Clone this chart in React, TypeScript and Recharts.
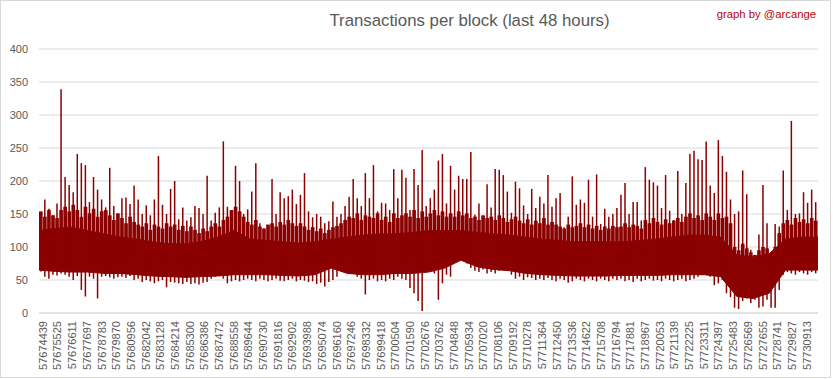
import React from 'react';
import { ComposedChart, Area, Bar, XAxis, YAxis, CartesianGrid } from 'recharts';

// first block of the 48h window, and how many blocks one sampled column covers
const START_BLOCK = 57674439;
const WINDOW_BLOCKS = 57600;
const COL_BLOCKS = 300;
const BODY_BLOCKS = 1200;
const CORE_BASE = 80;

// per-column maximum of transactions per block
const colHigh = [
  152, 172, 158, 148, 166, 339, 206, 194, 183, 241, 227, 224, 168, 206, 187, 172, 160, 220, 162, 150,
  174, 175, 165, 193, 172, 150, 163, 148, 172, 238, 164, 150, 188, 200, 142, 160, 140, 145, 162, 159,
  150, 208, 140, 152, 160, 260, 161, 152, 223, 200, 150, 157, 184, 227, 136, 128, 131, 203, 150, 183,
  174, 177, 187, 165, 179, 212, 154, 145, 150, 146, 136, 139, 169, 146, 150, 162, 176, 203, 174, 162,
  212, 174, 224, 154, 167, 166, 156, 218, 174, 217, 205, 156, 218, 194, 247, 162, 174, 187, 231, 241,
  166, 223, 187, 208, 203, 203, 244, 149, 166, 144, 195, 160, 218, 217, 209, 184, 152, 199, 189, 163,
  150, 188, 159, 176, 166, 209, 161, 174, 182, 130, 146, 207, 164, 172, 167, 202, 146, 210, 135, 158,
  146, 150, 159, 179, 197, 150, 168, 168, 140, 221, 202, 198, 193, 159, 209, 155, 141, 215, 150, 197,
  241, 246, 233, 232, 260, 193, 182, 262, 238, 214, 172, 150, 154, 216, 180, 96, 81, 119, 194, 136,
  91, 135, 131, 216, 156, 291, 150, 151, 183, 167, 187, 168,
];

// typical upper edge of the dense mass in each column
const colCore = [
  154, 146, 156, 148, 144, 156, 161, 154, 164, 156, 146, 161, 151, 158, 146, 154, 156, 148, 141, 151,
  144, 136, 146, 138, 134, 131, 136, 126, 134, 131, 128, 136, 131, 134, 126, 132, 124, 131, 126, 121,
  128, 124, 131, 136, 131, 141, 146, 156, 161, 154, 146, 138, 134, 141, 131, 128, 134, 136, 131, 138,
  134, 141, 136, 132, 136, 131, 126, 130, 124, 128, 121, 126, 130, 132, 136, 141, 146, 144, 151, 141,
  148, 146, 144, 151, 141, 146, 138, 151, 144, 148, 151, 146, 156, 144, 154, 146, 151, 156, 148, 154,
  146, 151, 146, 154, 148, 151, 144, 146, 141, 148, 144, 146, 141, 148, 144, 138, 142, 146, 140, 136,
  142, 134, 140, 136, 144, 134, 138, 134, 131, 128, 134, 130, 132, 136, 130, 134, 128, 132, 126, 131,
  128, 132, 130, 131, 136, 130, 134, 132, 128, 141, 136, 144, 138, 134, 142, 136, 140, 144, 138, 146,
  151, 144, 148, 141, 151, 146, 141, 151, 144, 146, 136, 100, 95, 105, 98, 92, 88, 95, 100, 98,
  90, 100, 121, 136, 141, 134, 144, 138, 142, 136, 144, 140,
];

// per-column minimum
const colLow = [
  63, 55, 52, 58, 57, 60, 58, 55, 50, 56, 35, 25, 55, 52, 22, 55, 56, 54, 52, 54,
  55, 53, 56, 50, 52, 47, 50, 48, 45, 48, 50, 39, 47, 46, 45, 44, 47, 44, 45, 43,
  46, 47, 52, 55, 56, 52, 45, 48, 50, 48, 50, 52, 50, 48, 52, 50, 48, 50, 52, 49,
  48, 50, 52, 48, 50, 49, 47, 48, 44, 46, 40, 47, 50, 55, 72, 80, 78, 62, 55, 52,
  28, 50, 52, 48, 50, 48, 52, 50, 55, 52, 50, 38, 30, 18, 3, 62, 63, 60, 20, 45,
  58, 55, 78, 82, 80, 75, 68, 64, 62, 66, 60, 62, 60, 64, 66, 80, 58, 52, 55, 50,
  54, 53, 50, 52, 50, 53, 50, 48, 52, 50, 46, 48, 52, 50, 48, 52, 50, 48, 52, 50,
  48, 52, 50, 52, 48, 50, 47, 52, 48, 50, 52, 49, 50, 48, 52, 50, 48, 50, 52, 48,
  50, 52, 55, 58, 60, 55, 42, 45, 50, 30, 24, 8, 6, 18, 22, 15, 20, 8, 10, 20,
  8, 8, 35, 58, 62, 60, 58, 62, 60, 58, 62, 60,
];

// fully solid band of the series, every 1200 blocks
const bodyTop = [
  125, 128, 130, 125, 120, 115, 112, 108, 105, 105, 108, 115, 125, 112, 110, 108, 106, 108, 112, 115,
  118, 120, 120, 122, 125, 125, 125, 122, 120, 118, 115, 112, 110, 108, 108, 108, 108, 110, 112, 115,
  118, 118, 115, 88, 85, 90, 112, 115, 115,
];
const bodyLow = [
  65, 63, 62, 62, 60, 60, 58, 56, 55, 54, 55, 56, 58, 58, 58, 57, 56, 58, 68, 60,
  58, 58, 60, 60, 62, 68, 80, 70, 66, 64, 60, 58, 57, 56, 56, 56, 57, 57, 57, 58,
  58, 58, 55, 25, 22, 30, 65, 65, 65,
];

const yTicks = [0, 50, 100, 150, 200, 250, 300, 350, 400];

const xTicks = [
  57674439, 57675525, 57676611, 57677697, 57678783, 57679870, 57680956, 57682042, 57683128, 57684214,
  57685300, 57686386, 57687472, 57688558, 57689644, 57690730, 57691816, 57692902, 57693988, 57695074,
  57696160, 57697246, 57698332, 57699418, 57700504, 57701590, 57702676, 57703762, 57704848, 57705934,
  57707020, 57708106, 57709192, 57710278, 57711364, 57712450, 57713536, 57714622, 57715708, 57716794,
  57717881, 57718967, 57720053, 57721139, 57722225, 57723311, 57724397, 57725483, 57726569, 57727655,
  57728741, 57729827, 57730913,
];

const columns = colHigh.map((h, i) => ({
  block: START_BLOCK + i * COL_BLOCKS + COL_BLOCKS / 2,
  span: [colLow[i], h],
  core: [CORE_BASE, colCore[i]],
}));

const bodyRows = bodyTop.map((t, j) => ({
  block: START_BLOCK + j * BODY_BLOCKS,
  band: [bodyLow[j], t],
}));

const FONT = '"Liberation Sans", Arial, sans-serif';
const RED = '#8b0000';
const DOMAIN = [START_BLOCK, START_BLOCK + WINDOW_BLOCKS];

export default function App() {
  return (
    <div
      style={{
        position: 'absolute',
        left: 0,
        top: 0,
        width: 831,
        height: 378,
        background: '#fff',
        boxSizing: 'border-box',
        border: '1px solid #d9d9d9',
        fontFamily: FONT,
      }}
    >
      <div
        style={{
          position: 'absolute',
          left: 468.5,
          top: 11.5,
          transform: 'translateX(-50%)',
          whiteSpace: 'nowrap',
          fontSize: 16.8,
          lineHeight: 1,
          color: '#595959',
        }}
      >
        Transactions per block (last 48 hours)
      </div>
      <div
        style={{
          position: 'absolute',
          left: 715.7,
          top: 7.7,
          whiteSpace: 'nowrap',
          fontSize: 11.3,
          lineHeight: 1,
          color: '#c00000',
        }}
      >
        graph by @arcange
      </div>
      <div style={{ position: 'absolute', left: -1, top: -1 }}>
        <ComposedChart width={833} height={379} data={columns} margin={{ top: 49, right: 15, bottom: 0, left: 0 }}>
          <CartesianGrid horizontal vertical={false} stroke="#d9d9d9" />
          <XAxis
            dataKey="block"
            type="number"
            domain={DOMAIN}
            ticks={xTicks}
            interval={0}
            height={66}
            angle={-90}
            textAnchor="end"
            tickLine={false}
            axisLine={{ stroke: '#d9d9d9' }}
            tick={{ fill: '#595959', fontSize: 11, fontFamily: FONT, verticalAnchor: 'middle' }}
            allowDataOverflow
          />
          <XAxis xAxisId="core" dataKey="block" type="number" domain={DOMAIN} hide allowDataOverflow />
          <YAxis
            type="number"
            domain={[0, 400]}
            ticks={yTicks}
            width={39}
            tickLine={false}
            axisLine={false}
            tickMargin={5}
            tick={{ fill: '#595959', fontSize: 11, fontFamily: FONT }}
          />
          <Area
            data={bodyRows}
            dataKey="band"
            type="linear"
            stroke={RED}
            strokeWidth={1}
            fill={RED}
            fillOpacity={1}
            isAnimationActive={false}
          />
          <Bar xAxisId="core" dataKey="core" fill={RED} barSize={4.3} isAnimationActive={false} />
          <Bar dataKey="span" fill={RED} barSize={1.5} isAnimationActive={false} />
        </ComposedChart>
      </div>
    </div>
  );
}
